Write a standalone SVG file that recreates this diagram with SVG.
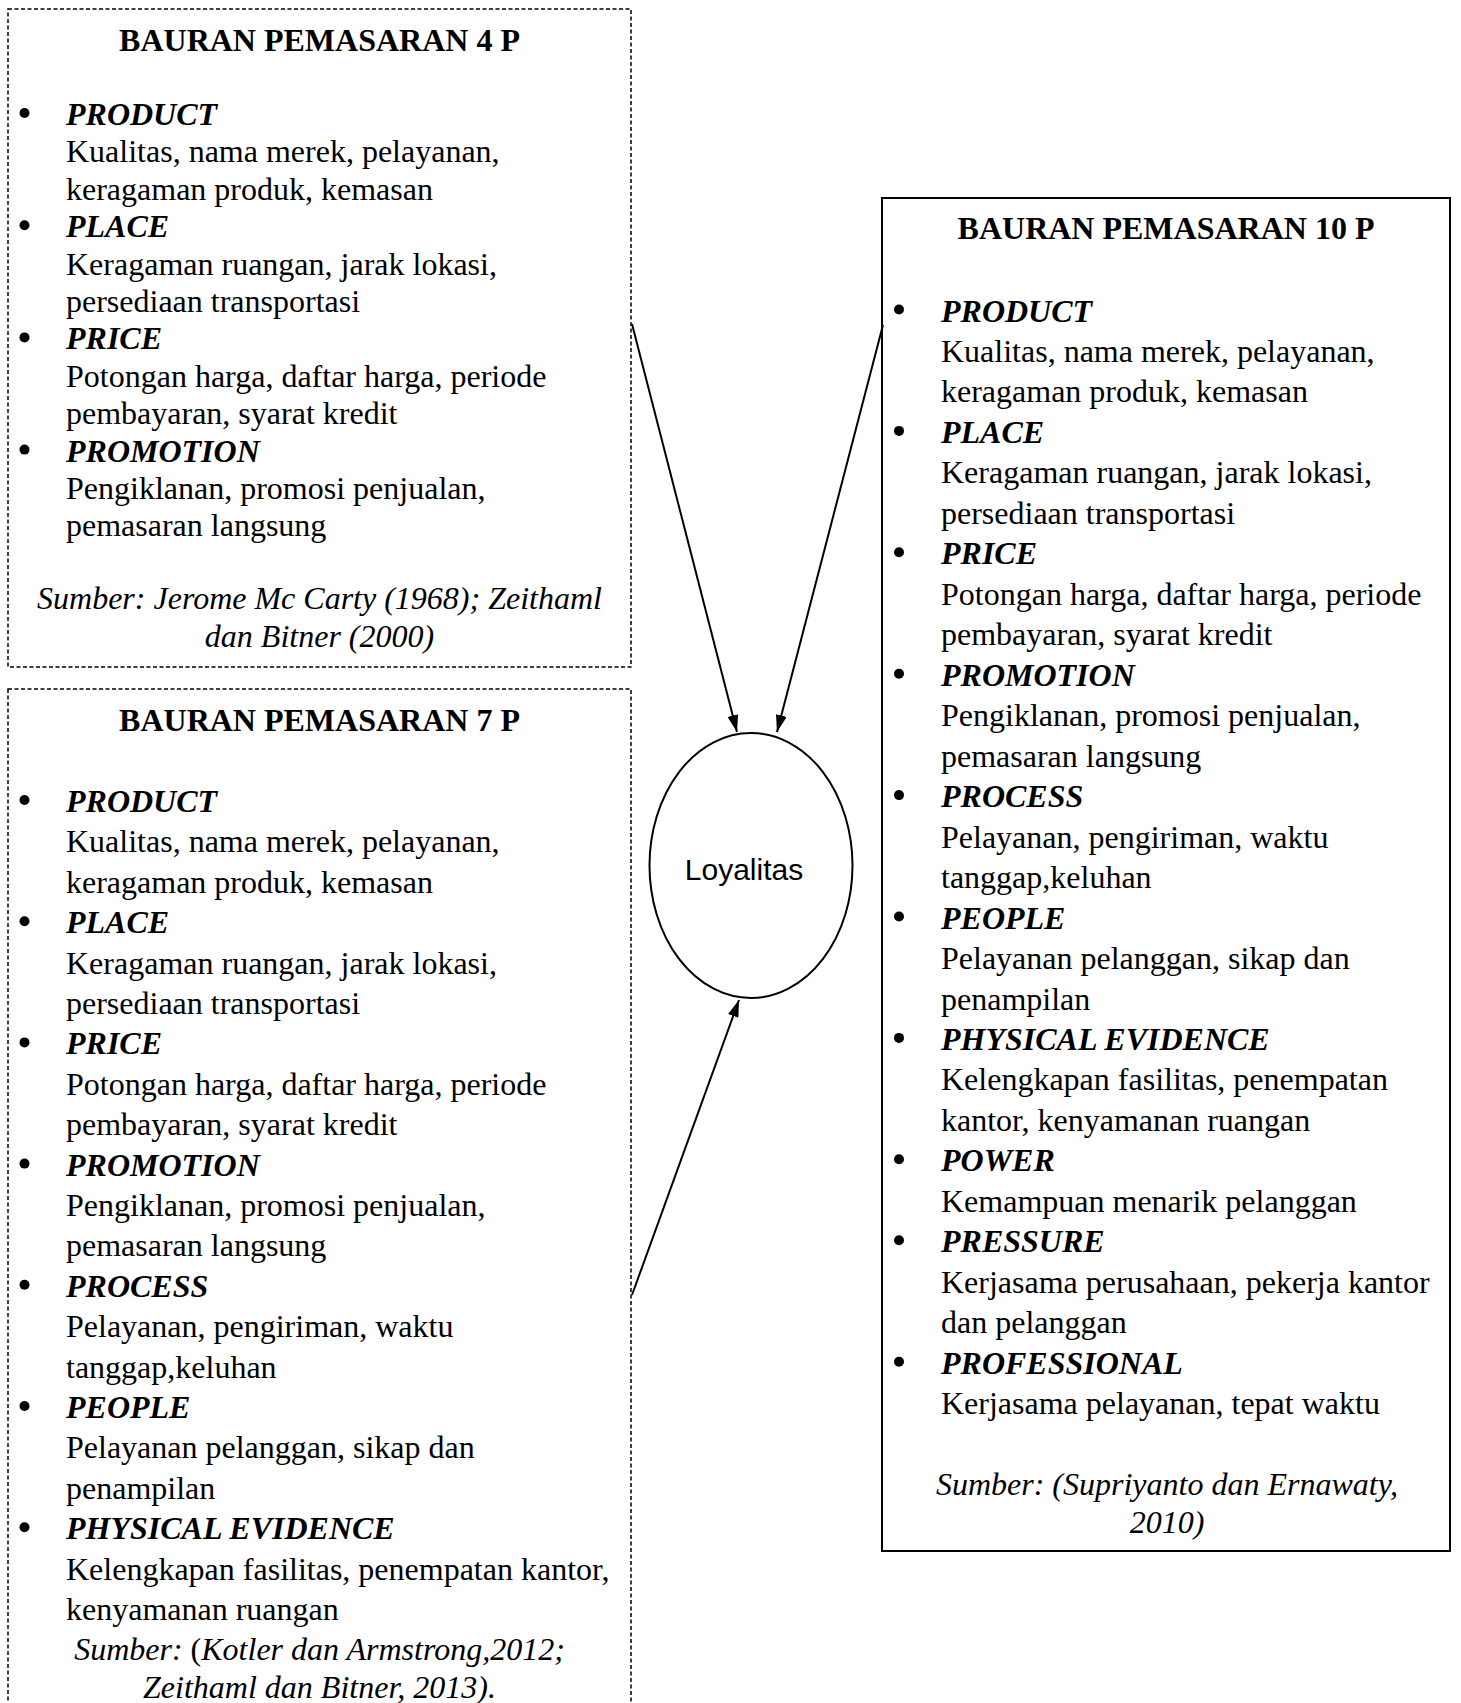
<svg xmlns="http://www.w3.org/2000/svg" width="1461" height="1703" viewBox="0 0 1461 1703">
<style>
text{font-family:"Liberation Serif","Times New Roman",serif;font-size:32px;fill:#000}
.ti{font-weight:bold;text-anchor:middle}
.h{font-weight:bold;font-style:italic}
.src{font-style:italic;text-anchor:middle}
.up{font-style:normal}
.bul{fill:#000}
.dash{fill:#fff;stroke:#000;stroke-width:1.5;stroke-dasharray:4 2.5}
.solid{fill:#fff;stroke:#000;stroke-width:2}
.conn line{stroke:#000;stroke-width:2;fill:none}
.lbl{font-family:"Liberation Sans",Arial,sans-serif;font-size:30px;text-anchor:middle}
</style>
<defs>
<marker id="arr" viewBox="0 0 17 11" refX="17" refY="5.5" markerWidth="17" markerHeight="11" markerUnits="userSpaceOnUse" orient="auto">
<path d="M0,0 L17,5.5 L0,11 Z" fill="#000"/>
</marker>
</defs>
<rect width="1461" height="1703" fill="#fff"/>

<g id="box4p">
<rect class="dash" x="8" y="9" width="623" height="658"/>
<text class="ti" x="319.5" y="51">BAURAN PEMASARAN 4 P</text>
<circle class="bul" cx="24.5" cy="113" r="5"/><text class="h" x="66" y="125">PRODUCT</text>
<text x="66" y="162.4">Kualitas, nama merek, pelayanan,</text>
<text x="66" y="199.8">keragaman produk, kemasan</text>
<circle class="bul" cx="24.5" cy="225.2" r="5"/><text class="h" x="66" y="237.2">PLACE</text>
<text x="66" y="274.6">Keragaman ruangan, jarak lokasi,</text>
<text x="66" y="312">persediaan transportasi</text>
<circle class="bul" cx="24.5" cy="337.4" r="5"/><text class="h" x="66" y="349.4">PRICE</text>
<text x="66" y="386.8">Potongan harga, daftar harga, periode</text>
<text x="66" y="424.2">pembayaran, syarat kredit</text>
<circle class="bul" cx="24.5" cy="449.6" r="5"/><text class="h" x="66" y="461.6">PROMOTION</text>
<text x="66" y="499">Pengiklanan, promosi penjualan,</text>
<text x="66" y="536.4">pemasaran langsung</text>
<text class="src" x="319.5" y="609">Sumber: Jerome Mc Carty (1968); Zeithaml</text>
<text class="src" x="319.5" y="646.5">dan Bitner (2000)</text>
</g>

<g id="box7p">
<rect class="dash" x="8" y="689" width="623" height="1030"/>
<text class="ti" x="319.5" y="731">BAURAN PEMASARAN 7 P</text>
<circle class="bul" cx="24.5" cy="800" r="5"/><text class="h" x="66" y="812">PRODUCT</text>
<text x="66" y="852.4">Kualitas, nama merek, pelayanan,</text>
<text x="66" y="892.8">keragaman produk, kemasan</text>
<circle class="bul" cx="24.5" cy="921.2" r="5"/><text class="h" x="66" y="933.2">PLACE</text>
<text x="66" y="973.6">Keragaman ruangan, jarak lokasi,</text>
<text x="66" y="1014">persediaan transportasi</text>
<circle class="bul" cx="24.5" cy="1042.4" r="5"/><text class="h" x="66" y="1054.4">PRICE</text>
<text x="66" y="1094.8">Potongan harga, daftar harga, periode</text>
<text x="66" y="1135.2">pembayaran, syarat kredit</text>
<circle class="bul" cx="24.5" cy="1163.6" r="5"/><text class="h" x="66" y="1175.6">PROMOTION</text>
<text x="66" y="1216">Pengiklanan, promosi penjualan,</text>
<text x="66" y="1256.4">pemasaran langsung</text>
<circle class="bul" cx="24.5" cy="1284.8" r="5"/><text class="h" x="66" y="1296.8">PROCESS</text>
<text x="66" y="1337.2">Pelayanan, pengiriman, waktu</text>
<text x="66" y="1377.6">tanggap,keluhan</text>
<circle class="bul" cx="24.5" cy="1406" r="5"/><text class="h" x="66" y="1418">PEOPLE</text>
<text x="66" y="1458.4">Pelayanan pelanggan, sikap dan</text>
<text x="66" y="1498.8">penampilan</text>
<circle class="bul" cx="24.5" cy="1527.2" r="5"/><text class="h" x="66" y="1539.2">PHYSICAL EVIDENCE</text>
<text x="66" y="1579.6">Kelengkapan fasilitas, penempatan kantor,</text>
<text x="66" y="1620">kenyamanan ruangan</text>
<text class="src" x="319.5" y="1660.4">Sumber: <tspan class="up">(</tspan>Kotler dan Armstrong,2012;</text>
<text class="src" x="319.5" y="1698">Zeithaml dan Bitner, 2013).</text>
</g>

<g id="box10p">
<rect class="solid" x="882" y="198" width="568" height="1353"/>
<text class="ti" x="1166" y="239">BAURAN PEMASARAN 10 P</text>
<circle class="bul" cx="899" cy="309.5" r="5"/><text class="h" x="941" y="321.5">PRODUCT</text>
<text x="941" y="362">Kualitas, nama merek, pelayanan,</text>
<text x="941" y="402.4">keragaman produk, kemasan</text>
<circle class="bul" cx="899" cy="430.9" r="5"/><text class="h" x="941" y="442.9">PLACE</text>
<text x="941" y="483.4">Keragaman ruangan, jarak lokasi,</text>
<text x="941" y="523.9">persediaan transportasi</text>
<circle class="bul" cx="899" cy="552.3" r="5"/><text class="h" x="941" y="564.3">PRICE</text>
<text x="941" y="604.8">Potongan harga, daftar harga, periode</text>
<text x="941" y="645.3">pembayaran, syarat kredit</text>
<circle class="bul" cx="899" cy="673.7" r="5"/><text class="h" x="941" y="685.7">PROMOTION</text>
<text x="941" y="726.2">Pengiklanan, promosi penjualan,</text>
<text x="941" y="766.7">pemasaran langsung</text>
<circle class="bul" cx="899" cy="795.1" r="5"/><text class="h" x="941" y="807.1">PROCESS</text>
<text x="941" y="847.6">Pelayanan, pengiriman, waktu</text>
<text x="941" y="888.1">tanggap,keluhan</text>
<circle class="bul" cx="899" cy="916.5" r="5"/><text class="h" x="941" y="928.5">PEOPLE</text>
<text x="941" y="969">Pelayanan pelanggan, sikap dan</text>
<text x="941" y="1009.5">penampilan</text>
<circle class="bul" cx="899" cy="1037.9" r="5"/><text class="h" x="941" y="1049.9">PHYSICAL EVIDENCE</text>
<text x="941" y="1090.4">Kelengkapan fasilitas, penempatan</text>
<text x="941" y="1130.9">kantor, kenyamanan ruangan</text>
<circle class="bul" cx="899" cy="1159.3" r="5"/><text class="h" x="941" y="1171.3">POWER</text>
<text x="941" y="1211.8">Kemampuan menarik pelanggan</text>
<circle class="bul" cx="899" cy="1240.3" r="5"/><text class="h" x="941" y="1252.3">PRESSURE</text>
<text x="941" y="1292.7">Kerjasama perusahaan, pekerja kantor</text>
<text x="941" y="1333.2">dan pelanggan</text>
<circle class="bul" cx="899" cy="1361.7" r="5"/><text class="h" x="941" y="1373.7">PROFESSIONAL</text>
<text x="941" y="1414.1">Kerjasama pelayanan, tepat waktu</text>
<text class="src" x="1167" y="1495">Sumber: (Supriyanto dan Ernawaty,</text>
<text class="src" x="1167" y="1533">2010)</text>
</g>

<g id="loyalitas">
<ellipse cx="751" cy="865.5" rx="101.5" ry="132.5" fill="#fff" stroke="#000" stroke-width="2"/>
<text class="lbl" x="744" y="880">Loyalitas</text>
</g>

<g id="connectors" class="conn">
<line x1="632" y1="324" x2="737" y2="732" marker-end="url(#arr)"/>
<line x1="883" y1="325" x2="777" y2="732" marker-end="url(#arr)"/>
<line x1="632" y1="1295" x2="739" y2="1000" marker-end="url(#arr)"/>
</g>
</svg>
